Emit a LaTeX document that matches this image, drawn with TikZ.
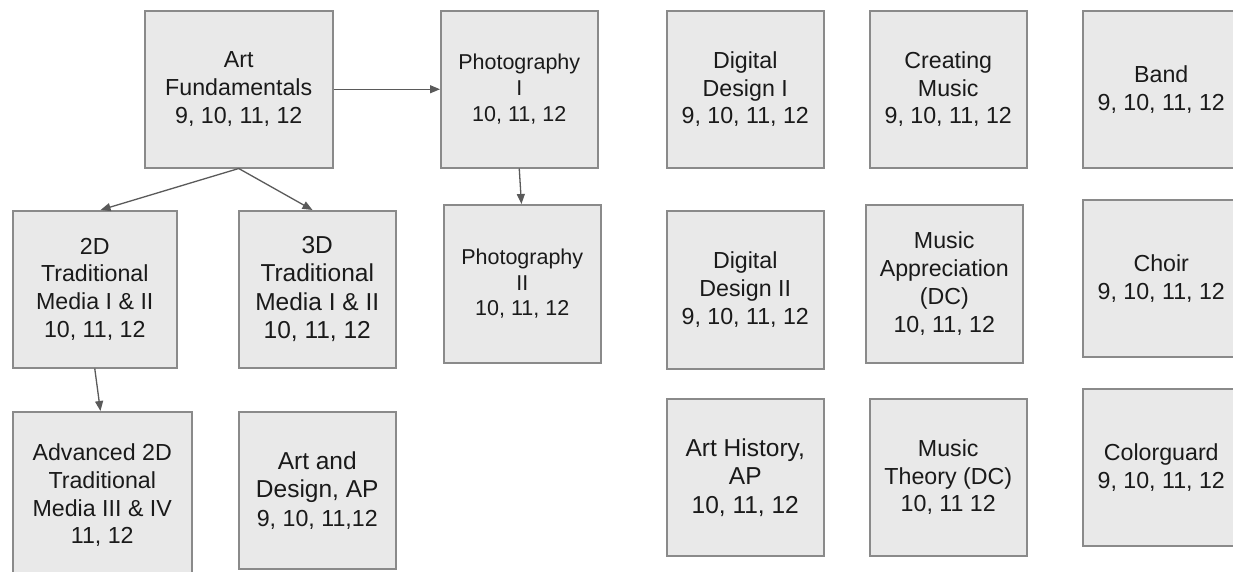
\documentclass[tikz,border=0pt]{standalone}
\usepackage{fontspec}
\setmainfont{Liberation Sans}
\usetikzlibrary{arrows.meta,calc}
\definecolor{boxfill}{HTML}{E9E9E9}
\definecolor{boxline}{HTML}{8A8A8A}
\definecolor{arrowline}{HTML}{5A5A5A}
\definecolor{textcol}{HTML}{1A1A1A}
\newcommand{\normsz}{\fontsize{23.2}{27.8}\selectfont}
\tikzset{
  course/.style={draw=boxline, fill=boxfill, line width=1.5pt, anchor=north west,
    align=center, inner sep=0pt, text=textcol,
    font=\fontsize{23.2}{27.8}\selectfont},
  smalltext/.style={font=\fontsize{21.5}{25.8}\selectfont},
  bigtext/.style={font=\fontsize{24.5}{28.5}\selectfont},
  link/.style={draw=arrowline, line width=1.3pt, -{Triangle[length=10pt,width=8pt]}}
}
\begin{document}
\begin{tikzpicture}[x=1pt,y=-1pt]
\fill[white] (0,0) rectangle (1233,571);
\clip (0,0) rectangle (1233,571);
\useasboundingbox (0,0) rectangle (1233,571);
% row 1
\node[course, minimum width=188pt, minimum height=157pt] (af) at (144,10) {Art\\Fundamentals\\9, 10, 11, 12};
\node[course, smalltext, minimum width=157pt, minimum height=157pt] (p1) at (440,10) {Photography\\I\\10, 11, 12};
\node[course, minimum width=157pt, minimum height=157pt] (dd1) at (666,10) {Digital\\Design I\\9, 10, 11, 12};
\node[course, minimum width=157pt, minimum height=157pt] (cm) at (869,10) {Creating\\Music\\9, 10, 11, 12};
\node[course, minimum width=157pt, minimum height=157pt] (band) at (1082,10) {Band\\9, 10, 11, 12};
% row 2
\node[course, minimum width=164pt, minimum height=157pt] (d2) at (12,210) {2D\\Traditional\\Media I \& II\\10, 11, 12};
\node[course, bigtext, minimum width=157pt, minimum height=157pt] (d3) at (238,210) {3D\\Traditional\\Media I \& II\\10, 11, 12};
\node[course, smalltext, minimum width=157pt, minimum height=158pt] (p2) at (443,204) {Photography\\II\\10, 11, 12};
\node[course, minimum width=157pt, minimum height=158pt] (dd2) at (666,210) {Digital\\Design II\\9, 10, 11, 12};
\node[course, minimum width=157pt, minimum height=158pt] (ma) at (865,204) {Music\\Appreciation\\(DC)\\10, 11, 12};
\node[course, minimum width=157pt, minimum height=157pt] (choir) at (1082,199) {Choir\\9, 10, 11, 12};
% row 3
\node[course, minimum width=179pt, minimum height=167pt] (adv) at (12,411) {Advanced 2D\\Traditional\\Media III \& IV\\11, 12};
\node[course, bigtext, minimum width=157pt, minimum height=157pt] (ad) at (238,411) {Art and\\Design, AP\\\normsz 9, 10, 11,12};
\node[course, bigtext, minimum width=157pt, minimum height=157pt] (ah) at (666,398) {Art History,\\AP\\10, 11, 12};
\node[course, minimum width=157pt, minimum height=157pt] (mt) at (869,398) {Music\\Theory (DC)\\10, 11 12};
\node[course, minimum width=157pt, minimum height=157pt] (cg) at (1082,388) {Colorguard\\9, 10, 11, 12};
% connectors
\draw[link] (af.east) -- (p1.west);
\draw[link] (af.south) -- ($(d2.north west)!0.535!(d2.north east)$);
\draw[link] (af.south) -- ($(d3.north west)!0.47!(d3.north east)$);
\draw[link] (p1.south) -- ($(p2.north west)!0.495!(p2.north east)$);
\draw[link] (d2.south) -- ($(adv.north west)!0.49!(adv.north east)$);
\end{tikzpicture}
\end{document}
